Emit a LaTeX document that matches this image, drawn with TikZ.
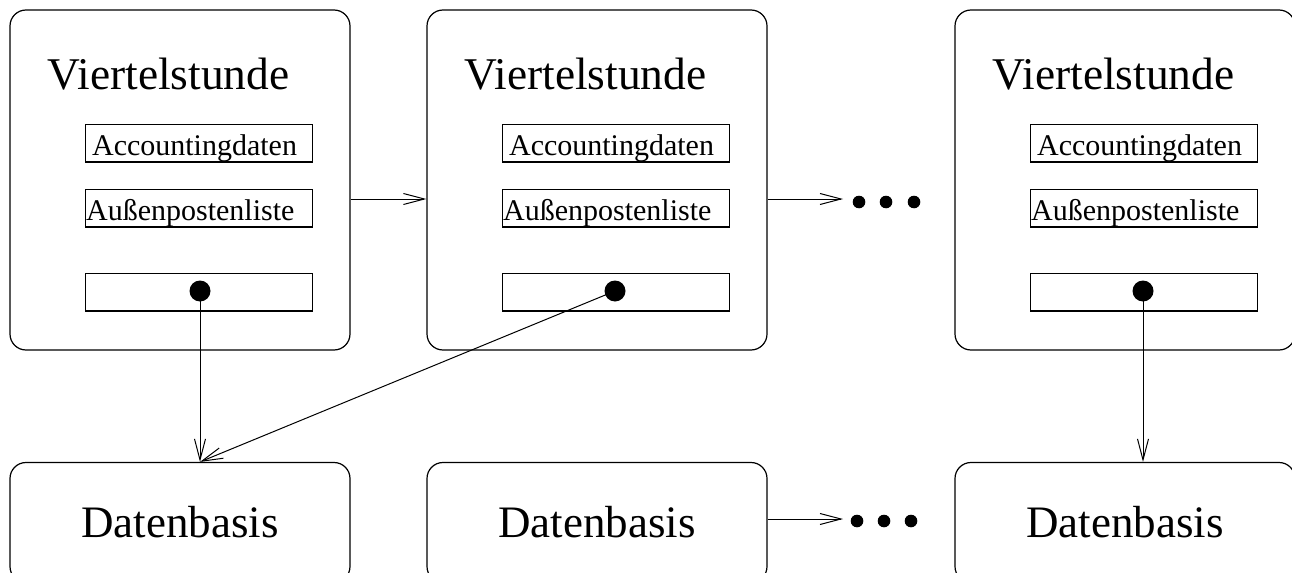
\documentclass[tikz,border=0pt]{standalone}
\usepackage{fontspec}
\setmainfont{Liberation Serif}
\usetikzlibrary{arrows.meta,calc}

\begin{document}
\begin{tikzpicture}[x=0.5pt,y=-0.5pt,
  line width=0.6pt,
  frame/.style={draw, rounded corners=8pt, inner sep=0pt,
    minimum width=170pt, minimum height=170pt},
  basebox/.style={draw, rounded corners=8pt, inner sep=0pt,
    minimum width=170pt, minimum height=60pt},
  slot/.style={draw, inner sep=0pt, minimum width=113.3pt, minimum height=18.9pt},
  bigdot/.style={circle, fill, inner sep=0pt, minimum size=10.5pt},
  smalldot/.style={circle, fill, inner sep=0pt, minimum size=6.3pt},
  title/.style={anchor=base west, inner sep=0pt, font=\fontsize{22.7}{27}\selectfont},
  label/.style={anchor=base west, inner sep=0pt, font=\fontsize{15}{18}\selectfont},
  dbtext/.style={inner sep=0pt, font=\fontsize{22.5}{27}\selectfont},
  arr/.style={-{Straight Barb[length=10.5pt,width=5.5pt]}, line width=0.5pt}
]
\useasboundingbox (0,0) rectangle (1292,573);
\clip (0,0) rectangle (1292,573);

% three quarter-hour records; \dx shifts the column, \px the pointer dot
\foreach \i/\dx/\px in {1/0/200, 2/417/615, 3/945/1143} {
  \node[frame] (q\i) at (180+\dx,180) {};
  \node[title] (t\i) at (47+\dx,90) {Viertelstunde};
  \node[slot] (acc\i) at (199+\dx,143) {};
  \node[slot] (aus\i) at (199+\dx,208) {};
  \node[slot] (ptr\i) at (199+\dx,292) {};
  \node[label] (accl\i) at (91.5+\dx,155) {Accountingdaten};
  \node[label] (ausl\i) at (85.5+\dx,220) {Außenpostenliste};
  \node[bigdot] (d\i) at (\px,291) {};
  \node[basebox] (b\i) at (180+\dx,522.5) {};
  \node[dbtext] (db\i) at (180+\dx,522.5) {Datenbasis};
}

% ellipses after the middle column
\node[smalldot] (m1) at (859,202) {};
\node[smalldot] (m2) at (886,202) {};
\node[smalldot] (m3) at (914,202) {};
\node[smalldot] (n1) at (857,521) {};
\node[smalldot] (n2) at (884,521) {};
\node[smalldot] (n3) at (911,521) {};
\coordinate (e1) at (843,199);
\coordinate (e2) at (843,519);

% successor links
\draw[arr] ($(q1.east)+(0,19)$) -- ($(q2.west)+(0,19)$);
\draw[arr] ($(q2.east)+(0,19)$) -- (e1);
\draw[arr] ($(b2.east)+(0,-3.5)$) -- (e2);

% pointers into the databases
\draw[arr] (d1.center) -- (d1.center |- b1.north);
\draw[arr] (d2.center) -- (d1.center |- b1.north);
\draw[arr] (d3.center) -- (d3.center |- b3.north);
\end{tikzpicture}
\end{document}
